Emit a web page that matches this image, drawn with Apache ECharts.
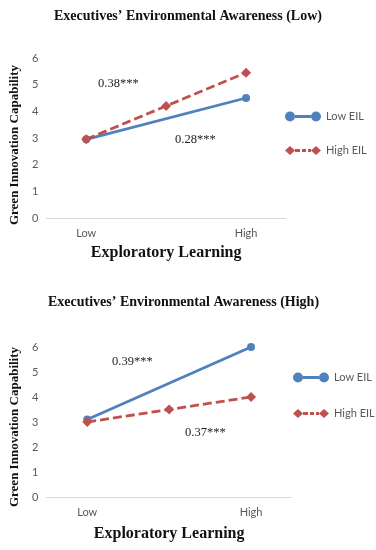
<!DOCTYPE html>
<html>
<head>
<meta charset="utf-8">
<script src="https://cdn.jsdelivr.net/npm/echarts@6/dist/echarts.min.js"></script>
<style>html,body{margin:0;padding:0;background:#fff;}#c{width:376px;height:550px;}</style>
</head>
<body>
<div id="c"></div>
<script>
var categories = ['Low', '', 'High'];
var yTicks = [0, 1, 2, 3, 4, 5, 6];
var lowTitle = "Executives’ Environmental Awareness (Low)";
var highTitle = "Executives’ Environmental Awareness (High)";
// Panel 1: executives' environmental awareness low
var lowAwareLowEIL = [2.95, null, 4.5];
var lowAwareHighEIL = [2.95, 4.2, 5.45];
// Panel 2: executives' environmental awareness high
var highAwareLowEIL = [3.1, null, 6.0];
var highAwareHighEIL = [3.0, 3.5, 4.0];
var annotations = ['0.38***', '0.28***', '0.39***', '0.37***'];

var BLUE = '#4F81BD', RED = '#C0504D', GRAY = '#595959';
var serif = '"Liberation Serif","DejaVu Serif",serif';
var sans = 'Lato,"Open Sans",sans-serif';

var iconLow = 'path://M0,5a5,5 0 1,0 10,0a5,5 0 1,0 -10,0Z M26,5a5,5 0 1,0 10,0a5,5 0 1,0 -10,0Z M10,3.6h16v2.8h-16Z';
var iconHigh = 'path://M0,5L5,0.5L10,5L5,9.5Z M26,5L31,0.5L36,5L31,9.5Z M10,3.6h5v2.8h-5Z M17,3.6h4v2.8h-4Z M23,3.6h3v2.8h-3Z';

function xAx(gi, gap) {
  return {
    type: 'category', gridIndex: gi, data: categories, boundaryGap: true,
    axisLine: {show: true, lineStyle: {color: '#d9d9d9', width: 1}},
    axisTick: {show: false},
    axisLabel: {color: GRAY, fontFamily: sans, fontSize: 11, margin: 10, interval: 0},
    name: 'Exploratory Learning', nameLocation: 'middle', nameGap: gap,
    nameTextStyle: {fontFamily: serif, fontWeight: 'bold', fontSize: 16, color: '#111'}
  };
}
function yAx(gi, pad, gap) {
  return {
    type: 'value', gridIndex: gi, min: 0, max: 6, interval: 1,
    axisLine: {show: false}, axisTick: {show: false}, splitLine: {show: false},
    axisLabel: {color: GRAY, fontFamily: sans, fontSize: 11, margin: 8,
      formatter: function (v) { return yTicks.indexOf(v) >= 0 ? String(v) : ''; }},
    name: 'Green Innovation Capability', nameLocation: 'middle', nameGap: gap, nameRotate: 90,
    nameTextStyle: {fontFamily: serif, fontWeight: 'bold', fontSize: 13, color: '#111', padding: pad}
  };
}
function lowSeries(name, data, gi) {
  return {
    name: name, type: 'line', xAxisIndex: gi, yAxisIndex: gi, data: data, connectNulls: true,
    symbol: 'circle', symbolSize: 8, lineStyle: {color: BLUE, width: 2.8},
    itemStyle: {color: BLUE}, z: 3
  };
}
function highSeries(name, data, gi) {
  return {
    name: name, type: 'line', xAxisIndex: gi, yAxisIndex: gi, data: data, connectNulls: true,
    symbol: 'diamond', symbolSize: 10, lineStyle: {color: RED, width: 2.8, type: [9, 4]},
    itemStyle: {color: RED}, z: 4
  };
}
function legend(left, top, gap) {
  return {
    orient: 'vertical', left: left, top: top, padding: 0, itemWidth: 36, itemHeight: 10, itemGap: gap,
    textStyle: {color: GRAY, fontFamily: sans, fontSize: 11},
    data: [{name: 'Low EIL', icon: iconLow}, {name: 'High EIL', icon: iconHigh}]
  };
}
function ann(text, x, y, size) {
  return {type: 'text', left: x, top: y,
    style: {text: text, font: size + 'px ' + serif, fill: '#222'}};
}

var chart = echarts.init(document.getElementById('c'), null, {renderer: 'canvas'});
chart.setOption({
  animation: false,
  title: [
    {text: lowTitle, left: 'center', top: 4,
      textStyle: {fontFamily: serif, fontWeight: 'bold', fontSize: 14, color: '#111'}},
    {text: highTitle, left: 43, top: 290,
      textStyle: {fontFamily: serif, fontWeight: 'bold', fontSize: 14, color: '#111'}}
  ],
  grid: [
    {left: 45, right: 90, top: 58, bottom: 332},
    {left: 38, right: 84, top: 347, bottom: 53}
  ],
  xAxis: [xAx(0, 27), xAx(1, 29)],
  yAxis: [yAx(0, [0, 14, 0, 0], 21), yAx(1, [0, 10, 0, 0], 20)],
  legend: [legend(285, 111, 23), legend(293, 372, 25)],
  series: [
    lowSeries('Low EIL', lowAwareLowEIL, 0),
    highSeries('High EIL', lowAwareHighEIL, 0),
    lowSeries('Low EIL', highAwareLowEIL, 1),
    highSeries('High EIL', highAwareHighEIL, 1)
  ],
  graphic: [
    ann(annotations[0], 98, 77, 12.5),
    ann(annotations[1], 175, 133, 12.5),
    ann(annotations[2], 112, 355, 12.5),
    ann(annotations[3], 185, 426, 12.5)
  ]
});
</script>
</body>
</html>
